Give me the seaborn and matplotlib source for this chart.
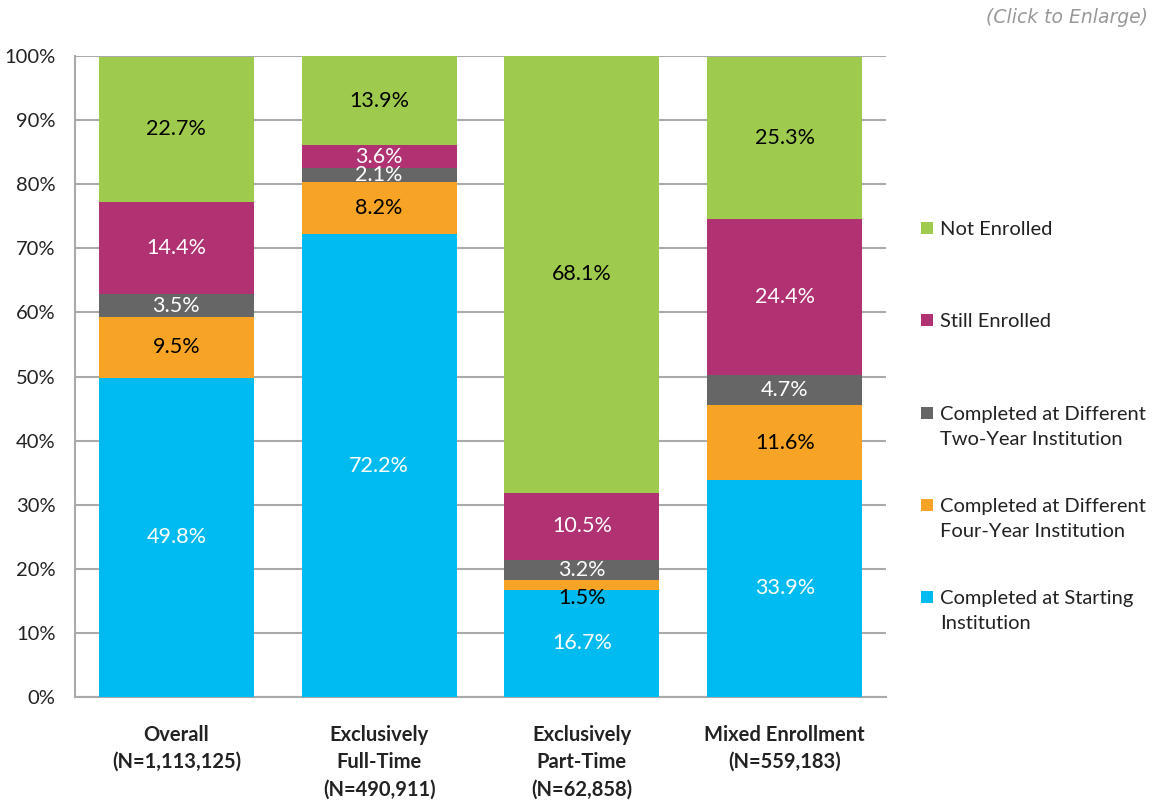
import matplotlib
matplotlib.use("Agg")
import matplotlib.pyplot as plt
import seaborn as sns
import numpy as np
import pandas as pd
from matplotlib.patches import Rectangle

categories = ["Overall\n(N=1,113,125)", "Exclusively\nFull-Time\n(N=490,911)",
              "Exclusively\nPart-Time\n(N=62,858)", "Mixed Enrollment\n(N=559,183)"]
series_names = ["Completed at Starting\nInstitution",
                "Completed at Different\nFour-Year Institution",
                "Completed at Different\nTwo-Year Institution",
                "Still Enrolled",
                "Not Enrolled"]
starting = [49.8, 72.2, 16.7, 33.9]
four_year = [9.5, 8.2, 1.5, 11.6]
two_year = [3.5, 2.1, 3.2, 4.7]
still_enrolled = [14.4, 3.6, 10.5, 24.4]
not_enrolled = [22.7, 13.9, 68.1, 25.3]
series_values = [starting, four_year, two_year, still_enrolled, not_enrolled]
colors = ["#00BBEF", "#F7A325", "#666666", "#B03272", "#9ECB4E"]
label_colors = ["white", "black", "white", "white", "black"]

sns.set_theme(style="white")
plt.rcParams['font.family'] = ['Lato', 'DejaVu Sans']

fig = plt.figure(figsize=(11.56, 8.0), dpi=100)
ax = fig.add_axes([0.0649, 0.12875, 0.7016, 0.80125])

bottom = np.zeros(len(categories))
for name, vals, col, lcol in zip(series_names, series_values, colors, label_colors):
    df = pd.DataFrame({"cat": categories, "val": vals})
    sns.barplot(data=df, x="cat", y="val", color=col, width=0.765, bottom=bottom,
                ax=ax, zorder=3, linewidth=0, saturation=1)
    for i, v in enumerate(vals):
        yc = bottom[i] + v / 2
        if v < 2:
            yc = bottom[i] - 1.3
        ax.text(i, yc, f"{v:.1f}%", ha="center", va="center", color=lcol,
                fontsize=15.5, zorder=5)
    bottom = bottom + np.array(vals)

ax.set_ylim(0, 100)
ax.set_xlim(-0.5, 3.5)
ax.set_yticks(np.arange(0, 101, 10))
ax.set_yticklabels([f"{t}%" for t in range(0, 101, 10)], fontsize=14.5, color="#222222")
ax.set_xticks(range(len(categories)))
ax.set_xticklabels(categories, fontsize=14.5, fontweight="bold", color="#222222",
                   linespacing=1.45)
ax.tick_params(axis="both", length=0)
ax.tick_params(axis="x", pad=20)
ax.tick_params(axis="y", pad=14)
ax.set_xlabel("")
ax.set_ylabel("")
ax.yaxis.grid(True, color="#AAAAAA", linewidth=1.5, zorder=0)
for s in ["top", "right"]:
    ax.spines[s].set_visible(False)
ax.spines["left"].set_color("#AAAAAA")
ax.spines["left"].set_linewidth(1.5)
ax.spines["bottom"].set_color("#AAAAAA")
ax.spines["bottom"].set_linewidth(1.5)

# legend (top to bottom: reversed series order), square aligned with first line
W, H = 1156.0, 800.0
legend_first_line_y = [228, 320, 413, 505, 597]
for (name, col), ypx in zip(list(zip(series_names, colors))[::-1], legend_first_line_y):
    fig.patches.append(Rectangle((921 / W, 1 - (ypx + 6) / H), 12 / W, 12 / H,
                                 transform=fig.transFigure, facecolor=col,
                                 edgecolor="none"))
    fig.text(940 / W, 1 - (ypx - 7) / H, name, ha="left", va="top",
             fontsize=14.5, color="#222222", linespacing=1.55)

fig.text(0.993, 0.978, "(Click to Enlarge)", ha="right", va="center",
         fontsize=13.5, style="italic", color="#999999", family="DejaVu Sans")

fig.savefig("out.png", dpi=100)
